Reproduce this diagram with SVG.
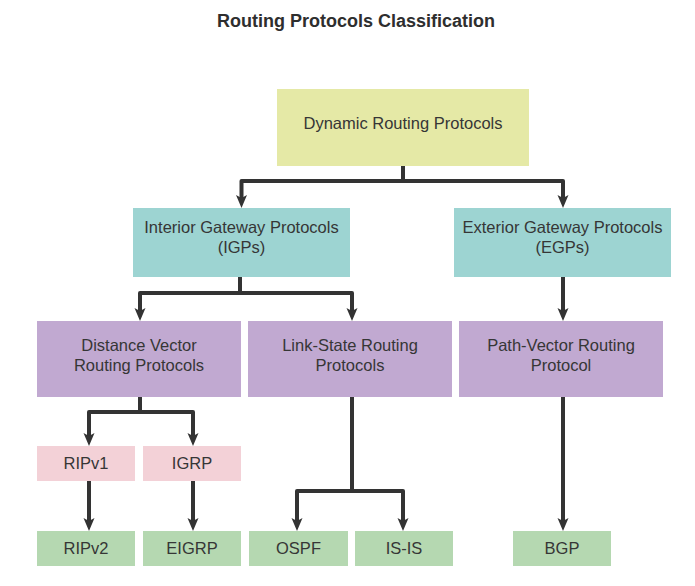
<svg xmlns="http://www.w3.org/2000/svg" width="695" height="586" viewBox="0 0 695 586">
<style>
text{font-family:"Liberation Sans",Arial,sans-serif;fill:#363636;text-anchor:middle;font-size:16.5px}
.title{font-size:18px;font-weight:bold;fill:#2e2e2e}
.top{fill:#e5e9a6}
.teal{fill:#9dd4d2}
.purple{fill:#c1a9d1}
.pink{fill:#f3d1d7}
.green{fill:#b5d8b1}
.conn path{fill:none;stroke:#333;stroke-width:4;stroke-linejoin:round}
.arrow path{marker-end:url(#ah)}
</style>
<defs>
<marker id="ah" markerUnits="userSpaceOnUse" markerWidth="14" markerHeight="12" viewBox="0 0 14 12" refX="3" refY="6" orient="auto">
<path d="M0,0.5 L13,6 L0,11.5 L3,6 Z" fill="#333"/>
</marker>
</defs>
<rect width="695" height="586" fill="#fff"/>
<text class="title" x="356" y="26.5">Routing Protocols Classification</text>

<g id="connectors" class="conn">
<path d="M403,166 V181 H241.5 V198" style="marker-end:url(#ah)"/>
<path d="M403,181 H563 V198" style="marker-end:url(#ah)"/>
<path d="M240,277 V293 H140 V311" style="marker-end:url(#ah)"/>
<path d="M240,293 H352 V311" style="marker-end:url(#ah)"/>
<path d="M563,277 V311" style="marker-end:url(#ah)"/>
<path d="M140,397 V412 H89 V436" style="marker-end:url(#ah)"/>
<path d="M140,412 H193 V436" style="marker-end:url(#ah)"/>
<path d="M89,481 V521" style="marker-end:url(#ah)"/>
<path d="M193,481 V521" style="marker-end:url(#ah)"/>
<path d="M352,397 V491 H297 V521" style="marker-end:url(#ah)"/>
<path d="M352,491 H403 V521" style="marker-end:url(#ah)"/>
<path d="M563,397 V521" style="marker-end:url(#ah)"/>
</g>

<g id="dynamic"><rect class="top" x="277" y="89" width="252" height="77"/><text x="403" y="129">Dynamic Routing Protocols</text></g>
<g id="igp"><rect class="teal" x="133" y="208" width="217" height="69"/><text x="241.5" y="233">Interior Gateway Protocols</text><text x="241.5" y="253">(IGPs)</text></g>
<g id="egp"><rect class="teal" x="454" y="208" width="217" height="69"/><text x="562.5" y="233">Exterior Gateway Protocols</text><text x="562.5" y="253">(EGPs)</text></g>
<g id="dv"><rect class="purple" x="37" y="321" width="204" height="76"/><text x="139" y="351">Distance Vector</text><text x="139" y="371">Routing Protocols</text></g>
<g id="ls"><rect class="purple" x="248" y="321" width="204" height="76"/><text x="350" y="351">Link-State Routing</text><text x="350" y="371">Protocols</text></g>
<g id="pv"><rect class="purple" x="459" y="321" width="204" height="76"/><text x="561" y="351">Path-Vector Routing</text><text x="561" y="371">Protocol</text></g>
<g id="ripv1"><rect class="pink" x="37" y="446" width="98" height="35"/><text x="86" y="468.5">RIPv1</text></g>
<g id="igrp"><rect class="pink" x="143" y="446" width="98" height="35"/><text x="192" y="468.5">IGRP</text></g>
<g id="ripv2"><rect class="green" x="37" y="531" width="98" height="35"/><text x="86" y="553.5">RIPv2</text></g>
<g id="eigrp"><rect class="green" x="143" y="531" width="98" height="35"/><text x="192" y="553.5">EIGRP</text></g>
<g id="ospf"><rect class="green" x="249" y="531" width="99" height="35"/><text x="298.5" y="553.5">OSPF</text></g>
<g id="isis"><rect class="green" x="355" y="531" width="98" height="35"/><text x="404" y="553.5">IS-IS</text></g>
<g id="bgp"><rect class="green" x="513" y="531" width="98" height="35"/><text x="562" y="553.5">BGP</text></g>
</svg>
